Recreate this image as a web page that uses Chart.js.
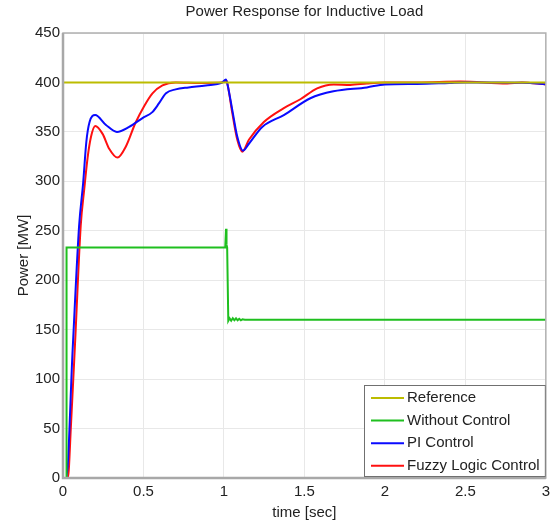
<!DOCTYPE html>
<html>
<head>
<meta charset="utf-8">
<script src="https://cdn.jsdelivr.net/npm/chart.js@4/dist/chart.umd.min.js"></script>
<style>
  html, body { margin: 0; padding: 0; background: #fff; }
  #wrap { width: 555px; height: 524px; }
</style>
</head>
<body>
<div id="wrap"><canvas id="mainChart" width="555" height="524"></canvas></div>
<script>
// Data
const refTime = [0, 3];
const refPower = [400, 400];

const noCtrlTime = [0, 0.02, 0.022, 1.008, 1.013, 1.016, 1.02, 1.027, 1.035, 1.045, 1.055, 1.065, 1.075, 1.085, 1.095, 1.105, 1.115, 1.13, 1.15, 3];
const noCtrlPower = [0, 0, 233, 233, 252, 236, 233, 159, 161.5, 159, 161.5, 159.5, 161.5, 159.5, 161, 159.5, 160.5, 160, 160, 160];

const piTime = [0, 0.02, 0.06, 0.1, 0.125, 0.145, 0.165, 0.2, 0.267, 0.335, 0.411, 0.494, 0.555, 0.597, 0.64, 0.7, 0.78, 0.887, 0.99, 1.012, 1.022, 1.052, 1.083, 1.118, 1.155, 1.238, 1.372, 1.537, 1.68, 1.888, 2.0, 2.2, 2.4, 2.5, 2.7, 2.9, 3.0];
const piPower = [0, 0, 130, 255, 298, 340, 360, 367, 357, 350, 355, 364, 370, 379, 389, 393, 395, 397, 400, 403, 398, 372, 345, 331, 338, 355, 367, 384, 391, 395, 398, 398.5, 399.5, 400, 400, 399.5, 398];

const flcTime = [0, 0.03, 0.05, 0.076, 0.11, 0.132, 0.153, 0.174, 0.2, 0.246, 0.287, 0.339, 0.39, 0.45, 0.504, 0.556, 0.618, 0.7, 0.85, 0.99, 1.015, 1.025, 1.052, 1.083, 1.114, 1.155, 1.248, 1.372, 1.475, 1.579, 1.682, 1.785, 1.888, 2.0, 2.2, 2.47, 2.76, 2.85, 3.0];
const flcPower = [0, 0, 55, 140, 255, 292, 324, 345, 356, 348, 333, 324, 335, 359, 376, 389, 397, 400, 399.5, 400, 402, 396, 369, 342, 330, 342, 360, 374, 383, 394, 398, 397.5, 399, 400, 400, 401, 399, 400, 398];

const seriesLabels = ['Reference', 'Without Control', 'PI Control', 'Fuzzy Logic Control'];
const seriesColors = ['#bcbc00', '#1fbf1f', '#0a0aff', '#ff1010'];

const xTickLabels = ['0', '0.5', '1', '1.5', '2', '2.5', '3'];
const yTickLabels = ['0', '50', '100', '150', '200', '250', '300', '350', '400', '450'];

const FONT = '"Liberation Sans", Arial, sans-serif';

const toXY = (ts, vs) => ts.map((t, i) => ({ x: t, y: vs[i] }));

// box around the plot + legend inside bottom right
const boxAndLegend = {
    id: 'boxAndLegend',
    afterDraw(chart) {
        const { ctx, chartArea: a } = chart;
        ctx.save();
        ctx.strokeStyle = '#b0b0b0';
        ctx.lineWidth = 1.5;
        ctx.strokeRect(a.left, a.top, a.right - a.left, a.bottom - a.top);
        ctx.strokeStyle = '#a8a8a8';
        ctx.lineWidth = 2.5;
        ctx.beginPath();
        ctx.moveTo(a.left, a.top);
        ctx.lineTo(a.left, a.bottom);
        ctx.lineTo(a.right, a.bottom);
        ctx.stroke();

        // legend
        const lx = 364, ly = 385, lw = a.right - 364, lh = 92;
        ctx.fillStyle = '#fff';
        ctx.fillRect(lx, ly, lw, lh);
        ctx.strokeStyle = '#707070';
        ctx.lineWidth = 1;
        ctx.strokeRect(lx + 0.5, ly + 0.5, lw - 1, lh - 1);
        ctx.font = '15px ' + FONT;
        ctx.textBaseline = 'middle';
        seriesLabels.forEach((lab, i) => {
            const y = ly + 13 + i * 22.6;
            ctx.strokeStyle = seriesColors[i];
            ctx.lineWidth = 2;
            ctx.beginPath();
            ctx.moveTo(371, y);
            ctx.lineTo(404, y);
            ctx.stroke();
            ctx.fillStyle = '#222';
            ctx.fillText(lab, 407, y);
        });
        ctx.restore();
    }
};

const mkSet = (i, data, smooth) => ({
    label: seriesLabels[i],
    data: data,
    borderColor: seriesColors[i],
    backgroundColor: seriesColors[i],
    borderWidth: 2,
    pointRadius: 0,
    tension: smooth ? 0.4 : 0,
    cubicInterpolationMode: smooth ? 'monotone' : 'default',
    fill: false
});

const chart = new Chart(document.getElementById('mainChart').getContext('2d'), {
    type: 'line',
    data: {
        datasets: [
            mkSet(0, toXY(refTime, refPower), false),
            mkSet(1, toXY(noCtrlTime, noCtrlPower), false),
            mkSet(2, toXY(piTime, piPower), true),
            mkSet(3, toXY(flcTime, flcPower), true)
        ]
    },
    options: {
        responsive: false,
        animation: false,
        layout: { padding: { right: 9, left: 0, top: 0, bottom: 0 } },
        plugins: {
            legend: { display: false },
            tooltip: { enabled: false },
            title: {
                display: true,
                fullSize: false,
                text: 'Power Response for Inductive Load',
                color: '#222',
                font: { family: FONT, size: 15, weight: 'normal' },
                padding: { top: 3, bottom: 12 }
            }
        },
        scales: {
            x: {
                type: 'linear',
                min: 0,
                max: 3,
                ticks: {
                    stepSize: 0.5,
                    color: '#222',
                    padding: 5,
                    maxRotation: 0,
                    font: { family: FONT, size: 15 },
                    callback: (v, i) => xTickLabels[i]
                },
                grid: { color: '#e8e8e8', drawTicks: false },
                border: { display: false },
                title: {
                    display: true,
                    text: 'time [sec]',
                    color: '#222',
                    font: { family: FONT, size: 15 },
                    padding: { top: 0, bottom: 2 }
                },
                afterFit: s => { s.height = 46; }
            },
            y: {
                min: 0,
                max: 450,
                ticks: {
                    stepSize: 50,
                    color: '#222',
                    padding: 3,
                    font: { family: FONT, size: 15 },
                    callback: (v, i) => yTickLabels[i]
                },
                grid: { color: '#e8e8e8', drawTicks: false },
                border: { display: false },
                title: {
                    display: true,
                    text: 'Power [MW]',
                    color: '#222',
                    font: { family: FONT, size: 15 },
                    padding: { top: 15, bottom: 0 }
                },
                afterFit: s => { s.width = 63; }
            }
        }
    },
    plugins: [boxAndLegend]
});
</script>
</body>
</html>
